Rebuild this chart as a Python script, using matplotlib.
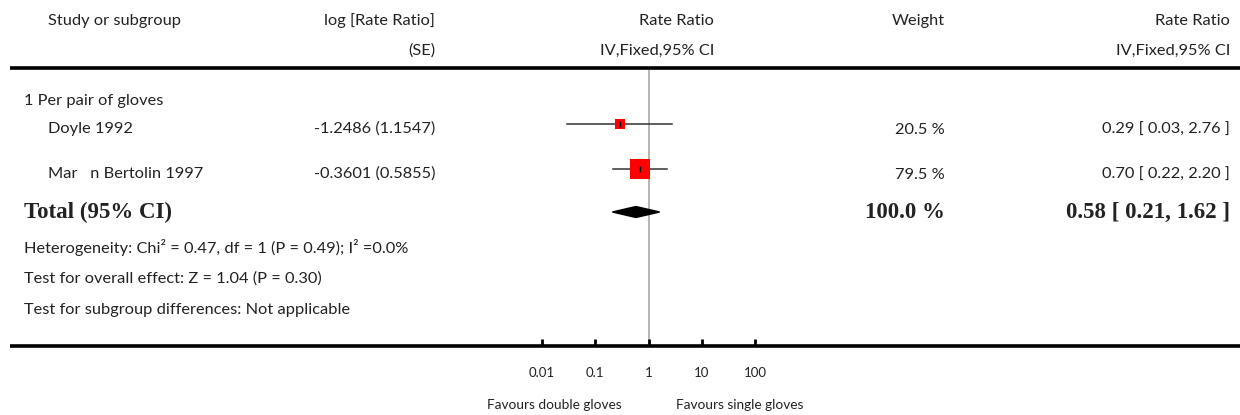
import numpy as np
import matplotlib
matplotlib.use('Agg')
import matplotlib.pyplot as plt

# ============================================================
# DATA
# ============================================================
studies = ["Doyle 1992", "Mar   n Bertolin 1997"]
log_rr = [-1.2486, -0.3601]
log_se = [1.1547, 0.5855]
rr = [0.29, 0.70]
rr_lo = [0.03, 0.22]
rr_hi = [2.76, 2.20]
weights = [20.5, 79.5]

total_rr, total_lo, total_hi = 0.58, 0.21, 1.62
total_weight = 100.0

ticks = [0.01, 0.1, 1, 10, 100]
tick_labels = ["0.01", "0.1", "1", "10", "100"]

# ============================================================
# LAYOUT (pixel rows / columns)
# ============================================================
W, H = 1240, 415
row_y = [129, 174]
total_y = 212
FONT = 'Lato'
TXT = '#222222'
fs = 11.8

fig = plt.figure(figsize=(W / 100, H / 100), dpi=100)
ax = fig.add_axes([0, 0, 1, 1])
ax.set_xlim(0, W)
ax.set_ylim(H, 0)
ax.axis('off')

def t(x, y, s, ha='left', **kw):
    kw.setdefault('fontsize', fs)
    kw.setdefault('family', FONT)
    ax.text(x, y, s, ha=ha, va='center', color=TXT, **kw)

# header
t(48, 21, "Study or subgroup")
t(435, 21, "log [Rate Ratio]", ha='right')
t(435, 51, "(SE)", ha='right')
t(714, 21, "Rate Ratio", ha='right')
t(714, 51, "IV,Fixed,95% CI", ha='right')
t(945, 21, "Weight", ha='right')
t(1230, 21, "Rate Ratio", ha='right')
t(1230, 51, "IV,Fixed,95% CI", ha='right')
ax.plot([10, W], [68, 68], color='black', lw=2.6, solid_capstyle='butt')

# rows
t(24, 101, "1 Per pair of gloves")
for i, name in enumerate(studies):
    y = row_y[i]
    t(48, y, name)
    t(435, y, f"{log_rr[i]:.4f} ({log_se[i]:.4f})", ha='right')
    t(945, y + 1, f"{weights[i]:.1f} %", ha='right')
    t(1230, y + 1, f"{rr[i]:.2f} [ {rr_lo[i]:.2f}, {rr_hi[i]:.2f} ]", ha='right')

# total
bold = dict(family='Liberation Serif', weight='bold', fontsize=16.5)
t(24, total_y, "Total (95% CI)", **bold)
t(945, total_y, f"{total_weight:.1f} %", ha='right', **bold)
t(1230, total_y, f"{total_rr:.2f} [ {total_lo:.2f}, {total_hi:.2f} ]", ha='right', **bold)

t(24, 247, "Heterogeneity: Chi\u00b2 = 0.47, df = 1 (P = 0.49); I\u00b2 =0.0%")
t(24, 279, "Test for overall effect: Z = 1.04 (P = 0.30)")
t(24, 310, "Test for subgroup differences: Not applicable")

# bottom axis line
ax.plot([10, W], [346, 346], color='black', lw=2.6, solid_capstyle='butt')

# ============================================================
# FOREST PANEL
# ============================================================
x0, x1, ytop, ybot = 542, 755, 70, 346
fx = fig.add_axes([x0 / W, (H - ybot) / H, (x1 - x0) / W, (ybot - ytop) / H])
fx.set_xscale('log')
fx.set_xlim(0.01, 100)
fx.set_ylim(ybot, ytop)
fx.patch.set_alpha(0)
for s in fx.spines.values():
    s.set_visible(False)

fx.axvline(1, color='#b4b4b4', lw=1.4, zorder=1)

for i in range(len(studies)):
    y = row_y[i] - 5
    fx.plot([rr_lo[i], rr_hi[i]], [y, y], color='#333333', lw=1.1, zorder=2, clip_on=False)
    size = 1.55 * np.sqrt(weights[i])
    fx.plot(rr[i], y, marker='s', color='red', markersize=size, markeredgewidth=0, zorder=3)
    fx.plot(rr[i], y, marker='|', color='black', markersize=5, markeredgewidth=1, zorder=4)

dx = [total_lo, total_rr, total_hi, total_rr]
dy = [total_y, total_y - 5.5, total_y, total_y + 5.5]
fx.fill(dx, dy, color='black', zorder=3)

fx.set_yticks([])
fx.set_xticks(ticks)
fx.set_xticklabels(tick_labels)
fx.xaxis.set_minor_locator(matplotlib.ticker.NullLocator())
fx.tick_params(axis='x', direction='in', length=5, width=2, color='black',
               pad=15, labelsize=9.5, labelcolor=TXT)
for lab in fx.get_xticklabels():
    lab.set_family(FONT)

t(622, 405, "Favours double gloves", ha='right', fontsize=9.8)
t(676, 405, "Favours single gloves", fontsize=9.8)

plt.savefig('out.png', dpi=100)
plt.close()
